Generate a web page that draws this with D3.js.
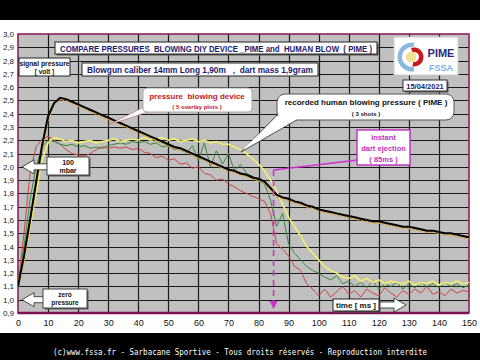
<!DOCTYPE html>
<html><head><meta charset="utf-8">
<script src="https://cdn.jsdelivr.net/npm/d3@7"></script>
<style>
html,body{margin:0;padding:0;background:#000;}
svg{display:block;}
</style></head>
<body>
<script>
const times = [0,2,4,6,8,10,12,14,16,18,20,22,24,26,28,30,32,34,36,38,40,42,44,46,48,50,52,54,56,58,60,62,64,66,68,70,72,74,76,78,80,82,84,86,88,90,92,94,96,98,100,102,104,106,108,110,112,114,116,118,120,122,124,126,128,130,132,134,136,138,140,142,144,146,148,150];
const humanBlow = [1.10,1.33,1.60,1.88,2.16,2.38,2.48,2.52,2.51,2.49,2.47,2.45,2.43,2.41,2.39,2.37,2.35,2.33,2.31,2.29,2.27,2.25,2.23,2.21,2.19,2.17,2.15,2.14,2.12,2.10,2.08,2.06,2.04,2.02,2.00,1.98,1.97,1.95,1.94,1.92,1.91,1.89,1.84,1.79,1.77,1.76,1.74,1.73,1.71,1.70,1.68,1.67,1.66,1.65,1.64,1.63,1.62,1.61,1.60,1.59,1.59,1.58,1.57,1.56,1.55,1.55,1.54,1.53,1.52,1.52,1.51,1.50,1.50,1.49,1.48,1.47];
const humanBlow2 = [1.10,1.31,1.58,1.86,2.14,2.36,2.47,2.51,2.50,2.48,2.46,2.44,2.42,2.40,2.38,2.36,2.34,2.32,2.30,2.28,2.26,2.24,2.22,2.20,2.18,2.16,2.14,2.13,2.11,2.09,2.07,2.05,2.03,2.01,1.99,1.97,1.96,1.94,1.93,1.91,1.90,1.88,1.83,1.78,1.76,1.75,1.73,1.72,1.70,1.69,1.67,1.66,1.65,1.64,1.63,1.62,1.61,1.60,1.59,1.58,1.58,1.57,1.56,1.55,1.54,1.54,1.53,1.52,1.51,1.51,1.50,1.49,1.49,1.48,1.47,1.46];
const deviceRed = [1.10,1.50,1.95,2.15,2.21,2.23,2.20,2.17,2.13,2.10,2.09,2.08,2.10,2.13,2.15,2.14,2.15,2.14,2.15,2.13,2.14,2.11,2.10,2.07,2.08,2.05,2.06,2.02,2.03,1.99,2.00,1.95,1.94,1.90,1.91,1.87,1.85,1.82,1.80,1.78,1.76,1.74,1.65,1.42,1.38,1.33,1.25,1.22,1.12,1.08,1.03,1.08,1.02,1.06,1.10,1.04,1.07,1.02,1.08,1.05,1.03,1.09,1.05,1.02,1.07,1.04,1.08,1.05,1.10,1.04,1.06,1.03,1.08,1.05,1.07,1.06];
const deviceGreen = [1.10,1.40,1.75,2.00,2.15,2.20,2.19,2.17,2.16,2.17,2.15,2.16,2.14,2.15,2.14,2.16,2.17,2.18,2.17,2.19,2.18,2.19,2.17,2.18,2.15,2.16,2.13,2.14,2.10,2.16,2.05,2.18,2.00,2.12,2.02,2.10,1.97,2.02,1.95,1.93,1.90,1.87,1.75,1.55,1.65,1.42,1.35,1.30,1.25,1.22,1.20,1.17,1.15,1.18,1.12,1.14,1.10,1.13,1.09,1.14,1.08,1.12,1.10,1.13,1.08,1.12,1.09,1.13,1.10,1.12,1.09,1.13,1.10,1.12,1.09,1.11];
const deviceYellow = [1.10,1.30,1.55,1.80,2.05,2.18,2.22,2.21,2.19,2.20,2.18,2.19,2.20,2.18,2.19,2.20,2.21,2.19,2.20,2.21,2.20,2.22,2.20,2.21,2.22,2.20,2.21,2.19,2.20,2.21,2.19,2.20,2.18,2.19,2.17,2.17,2.15,2.13,2.10,2.06,2.02,1.97,1.90,1.82,1.72,1.62,1.55,1.48,1.40,1.35,1.30,1.25,1.22,1.20,1.17,1.16,1.18,1.14,1.16,1.13,1.15,1.12,1.14,1.13,1.12,1.14,1.11,1.13,1.12,1.14,1.11,1.13,1.12,1.14,1.12,1.13];
const xTicks = [0,10,20,30,40,50,60,70,80,90,100,110,120,130,140,150];
const yTicks = [0.9,1.0,1.1,1.2,1.3,1.4,1.5,1.6,1.7,1.8,1.9,2.0,2.1,2.2,2.3,2.4,2.5,2.6,2.7,2.8,2.9,3.0];
const ejectionTime = 85;

const W = 480, H = 360;
const svg = d3.select("body").append("svg").attr("width", W).attr("height", H);
svg.append("rect").attr("x",0).attr("y",0).attr("width",W).attr("height",H).attr("fill","#000");
svg.append("rect").attr("x",0).attr("y",20).attr("width",W).attr("height",313).attr("fill","#fff");

const x = d3.scaleLinear().domain([0,150]).range([18,469]);
const y = d3.scaleLinear().domain([0.9,3.0]).range([313,34]);

svg.append("rect").attr("x",x(0)).attr("y",y(3.0)).attr("width",x(150)-x(0)).attr("height",y(0.9)-y(3.0)).attr("fill","#c0c0c0");

const g = svg.append("g");
g.selectAll("line.h").data(yTicks.slice(1,-1)).join("line")
  .attr("x1",x(0)).attr("x2",x(150)).attr("y1",d=>Math.round(y(d))+0.5).attr("y2",d=>Math.round(y(d))+0.5)
  .attr("stroke","#1a1a1a").attr("stroke-width",1);
g.selectAll("line.v").data(xTicks.slice(1,-1)).join("line")
  .attr("y1",y(3.0)).attr("y2",y(0.9)).attr("x1",d=>Math.round(x(d))+0.5).attr("x2",d=>Math.round(x(d))+0.5)
  .attr("stroke","#1a1a1a").attr("stroke-width",1.2);

svg.append("rect").attr("x",x(0)).attr("y",y(3.0)).attr("width",x(150)-x(0)).attr("height",y(0.9)-y(3.0))
  .attr("fill","none").attr("stroke","#8a2060").attr("stroke-width",1.6);
svg.append("line").attr("x1",x(0)).attr("x2",x(150)).attr("y1",y(0.9)).attr("y2",y(0.9)).attr("stroke","#7a1050").attr("stroke-width",2.5);

const xAxis = svg.append("g").attr("transform",`translate(0,${y(0.9)})`)
  .call(d3.axisBottom(x).tickValues(xTicks).tickSize(0).tickPadding(7).tickFormat(d3.format("d")));
xAxis.select(".domain").remove();
xAxis.selectAll("text").attr("font-family","Liberation Sans, Arial").attr("font-size",9).attr("fill","#111");

const yAxis = svg.append("g").attr("transform",`translate(${x(0)},0)`)
  .call(d3.axisLeft(y).tickValues(yTicks).tickSize(0).tickPadding(4).tickFormat(d=>d3.format(".1f")(d).replace(".",",")));
yAxis.select(".domain").remove();
yAxis.selectAll("text").attr("font-family","Liberation Sans, Arial").attr("font-size",8).attr("fill","#222");

svg.append("clipPath").attr("id","pc").append("rect")
  .attr("x",x(0)).attr("y",y(3.0)).attr("width",x(150)-x(0)).attr("height",y(0.9)-y(3.0));
const lg = svg.append("g").attr("clip-path","url(#pc)");
const line = vals => d3.line().x((d,i)=>x(times[i])).y(d=>y(d))(vals);
lg.append("path").attr("d",line(deviceRed)).attr("fill","none").attr("stroke","#d04444").attr("stroke-width",1);
lg.append("path").attr("d",line(deviceGreen)).attr("fill","none").attr("stroke","#3a8a3a").attr("stroke-width",1);
lg.append("path").attr("d",line(deviceYellow)).attr("fill","none").attr("stroke","#f2f070").attr("stroke-width",1.6);
lg.append("path").attr("d",line(humanBlow2)).attr("fill","none").attr("stroke","#e0a030").attr("stroke-width",2.2).attr("stroke-dasharray","2,1.5");
lg.append("path").attr("d",line(humanBlow)).attr("fill","none").attr("stroke","#000").attr("stroke-width",2);

const FONT = "Liberation Sans, Arial, sans-serif";
function box(x0,y0,w,h,opts={}){
  if(opts.shadow) svg.append("rect").attr("x",x0+1.5).attr("y",y0+1.5).attr("width",w).attr("height",h).attr("fill","#555").attr("rx",opts.rx||0);
  svg.append("rect").attr("x",x0).attr("y",y0).attr("width",w).attr("height",h).attr("rx",opts.rx||0)
    .attr("fill","#fff").attr("stroke",opts.stroke||"#222").attr("stroke-width",opts.sw||1);
}
function txt(s,xx,yy,opts={}){
  return svg.append("text").attr("x",xx).attr("y",yy).text(s).attr("font-family",FONT)
    .attr("font-size",opts.size||8).attr("font-weight",opts.weight||"bold").attr("fill",opts.fill||"#000")
    .attr("text-anchor",opts.anchor||"middle");
}

box(55,42,322,12,{shadow:true});
txt("COMPARE PRESSURES  BLOWING DIY DEVICE _PIME and  HUMAN BLOW  ( PIME )",216,51.5,{size:8.3,fill:"#1a1a70"})
  .attr("xml:space","preserve").attr("textLength",312).attr("lengthAdjust","spacingAndGlyphs");
box(19,58,51,18);
txt("signal pressure",44.5,66,{size:6.8,fill:"#111"});
txt("[ volt ]",44.5,74,{size:6.5,fill:"#111"});
box(82,63,236,13);
txt("Blowgun caliber 14mm Long 1,90m   ,  dart mass 1,9gram",200,73,{size:8.3,fill:"#1a1a70"})
  .attr("xml:space","preserve").attr("textLength",226).attr("lengthAdjust","spacingAndGlyphs");

box(394,37,64,38,{stroke:"#ccc"});
const lc = [412,57];
const arcG = d3.arc();
svg.append("path").attr("transform",`translate(${lc})`).attr("fill","#8ab8e0")
  .attr("d",arcG({innerRadius:10,outerRadius:14.5,startAngle:Math.PI*0.05,endAngle:-Math.PI*1.05}));
svg.append("path").attr("transform",`translate(${lc[0]+2},${lc[1]})`).attr("fill","#c8181c")
  .attr("d",arcG({innerRadius:5,outerRadius:9.5,startAngle:-Math.PI*0.1,endAngle:Math.PI*1.05}));
svg.append("circle").attr("cx",lc[0]-1).attr("cy",lc[1]).attr("r",5.2).attr("fill","#f0e090");
txt("PIME",441,57,{size:11,fill:"#2a2a80"});
txt("FSSA",441,71,{size:9,fill:"#80b0e0"});
box(403,80,44,11,{stroke:"#333",shadow:true});
txt("15/04/2021",425,88.5,{size:7.5,fill:"#1a1a70"});

svg.append("path").attr("d","M150,104 L108,125 L154,110 Z").attr("fill","#fff").attr("stroke","#a66").attr("stroke-width",0.6);
box(143,88,109,24,{rx:4,stroke:"#aaa"});
txt("pressure  blowing device",197,99,{size:8,fill:"#c02020"}).attr("xml:space","preserve");
txt("( 5 overlay plots )",197,109,{size:6,fill:"#c02020"});

svg.append("path").attr("d","M284,108 L241,152 L300,118").attr("fill","#fff").attr("stroke","#222").attr("stroke-width",0.8);
box(277,94,177,26,{rx:8,stroke:"#555"});
svg.append("path").attr("d","M285,110 L242,150 L299,118 Z").attr("fill","#fff");
txt("recorded human blowing pressure ( PIME )",366,105,{size:8,fill:"#111"});
txt("( 3 shots )",366,116,{size:6,fill:"#111"});

svg.append("path").attr("d",`M358,160 L${x(ejectionTime)},170 L${x(ejectionTime)+7},169`).attr("fill","none").attr("stroke","#d030d0").attr("stroke-width",1.6);
svg.append("line").attr("x1",x(ejectionTime)).attr("x2",x(ejectionTime)).attr("y1",170).attr("y2",302)
  .attr("stroke","#d030d0").attr("stroke-width",1.6).attr("stroke-dasharray","6,4");
svg.append("path").attr("d",`M${x(ejectionTime)-4},301 L${x(ejectionTime)+4},301 L${x(ejectionTime)},309 Z`).attr("fill","#d030d0");
box(357,130,53,35,{stroke:"#c030c0",sw:1.4});
txt("instant",383.5,140,{size:7.5,fill:"#c030c0"});
txt("dart ejection",383.5,151,{size:7.5,fill:"#c030c0"});
txt("( 85ms )",383.5,162,{size:7.5,fill:"#c030c0"});

function leftArrow(tipX,tipY,endX){
  const p = `M${tipX},${tipY} L${tipX+12},${tipY-7} L${tipX+12},${tipY-3} L${endX},${tipY-3} L${endX},${tipY+3} L${tipX+12},${tipY+3} L${tipX+12},${tipY+7} Z`;
  svg.append("path").attr("d",p).attr("fill","#fff").attr("stroke","#222").attr("stroke-width",0.8);
}
leftArrow(x(0)+4,y(2.0),48);
box(47,157,42,18,{stroke:"#444",shadow:true});
txt("100",68,165,{size:7,fill:"#111"});
txt("mbar",68,173,{size:7,fill:"#111"});

leftArrow(x(0)+4,y(1.0),44);
box(43,289,44,19,{stroke:"#444",shadow:true});
txt("zero",65,297,{size:6.5,fill:"#111"});
txt("pressure",65,305,{size:6.5,fill:"#111"});

svg.append("path").attr("d","M378,302 L394,302 L394,298 L406,305 L394,312 L394,308 L378,308 Z").attr("fill","#fff").attr("stroke","#222").attr("stroke-width",0.8);
box(333,299,46,12,{stroke:"#222",shadow:true});
txt("time [ ms ]",356,308,{size:8,fill:"#111"});

svg.append("text").attr("x",240).attr("y",355).attr("text-anchor","middle")
  .attr("font-family","DejaVu Sans Mono, monospace").attr("font-size",8).attr("fill","#fff")
  .attr("textLength",374).attr("lengthAdjust","spacingAndGlyphs")
  .text("(c)www.fssa.fr - Sarbacane Sportive - Tous droits réservés - Reproduction interdite");
</script>
</body></html>
